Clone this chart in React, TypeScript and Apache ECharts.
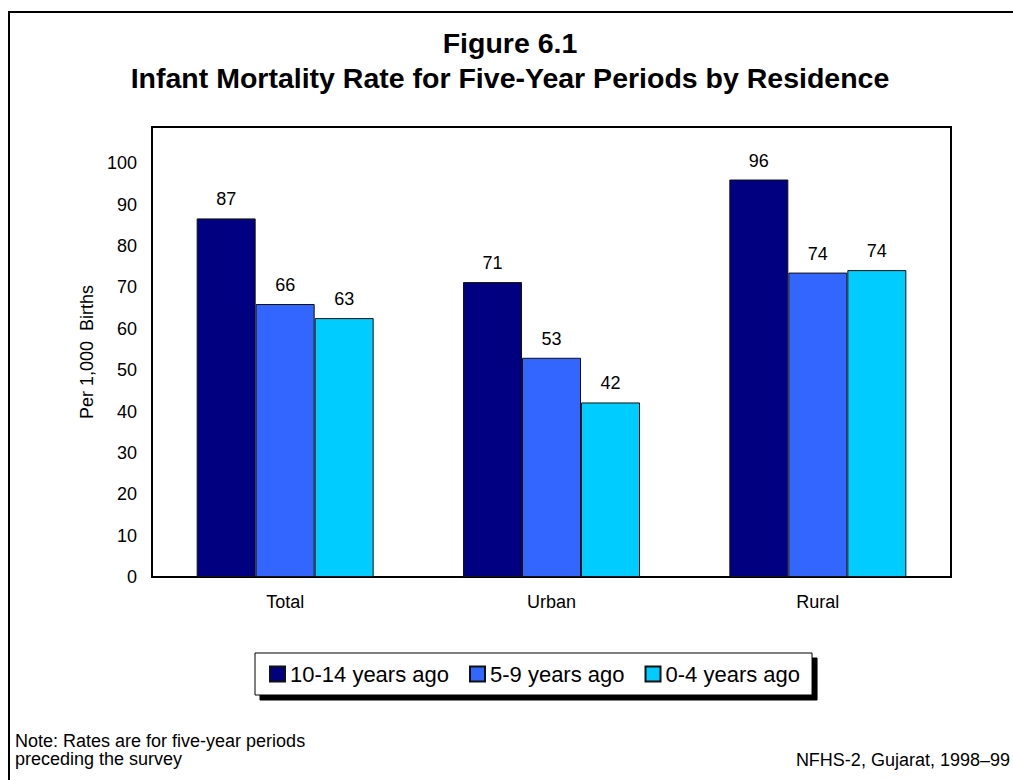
import React, { useEffect, useRef } from "react";
import * as echarts from "echarts";

const categories = ["Total", "Urban", "Rural"];
const seriesNames = ["10-14 years ago", "5-9 years ago", "0-4 years ago"];
const values10to14 = [86.7, 71.3, 96.1];
const values5to9 = [66.0, 53.0, 73.6];
const values0to4 = [62.6, 42.2, 74.2];
const colors = ["#000080", "#3366FF", "#00CCFF"];

const FONT = "Liberation Sans, Arial, Helvetica, sans-serif";

export default function App() {
  const ref = useRef<HTMLDivElement>(null);
  useEffect(() => {
    if (!ref.current) return;
    const chart = echarts.init(ref.current, undefined, { renderer: "svg" });
    const data = [values10to14, values5to9, values0to4];
    chart.setOption({
      animation: false,
      backgroundColor: "#fff",
      textStyle: { fontFamily: FONT, color: "#000" },
      grid: {
        left: 152,
        top: 127,
        right: 62,
        bottom: 203,
        show: true,
        borderColor: "#000",
        borderWidth: 2,
        backgroundColor: "transparent",
      },
      xAxis: {
        type: "category",
        data: categories,
        axisLine: { show: true, lineStyle: { color: "#000", width: 2 } },
        axisTick: { show: false },
        axisLabel: { fontSize: 18, color: "#000", margin: 16, fontFamily: FONT },
      },
      yAxis: {
        type: "value",
        min: 0,
        max: 108.8,
        interval: 10,
        name: "Per 1,000  Births",
        nameLocation: "middle",
        nameGap: 50,
        nameTextStyle: { fontSize: 18, color: "#000", fontFamily: FONT },
        axisLine: { show: true, lineStyle: { color: "#000", width: 2 } },
        axisTick: { show: false },
        splitLine: { show: false },
        axisLabel: {
          fontSize: 18,
          color: "#000",
          margin: 15,
          fontFamily: FONT,
          formatter: (v: number) => (v <= 100 + 1e-6 ? String(Math.round(v)) : ""),
        },
      },
      legend: {
        left: 255,
        top: 653,
        orient: "horizontal",
        itemWidth: 15,
        itemHeight: 15,
        itemGap: 20,
        padding: [10, 12, 10, 14],
        backgroundColor: "#fff",
        borderColor: "#000",
        borderWidth: 1,
        shadowColor: "#000",
        shadowBlur: 0,
        shadowOffsetX: 5,
        shadowOffsetY: 5,
        icon: "rect",
        textStyle: { fontSize: 22, color: "#000", fontFamily: FONT },
        data: seriesNames,
      },
      graphic: [
        {
          type: "polyline",
          shape: { points: [[9, 780], [9, 12], [1013, 12]] },
          style: { stroke: "#000", lineWidth: 2, fill: "none" },
        },
        {
          type: "text",
          x: 510,
          y: 43,
          style: {
            text: "Figure 6.1",
            font: `bold 28.5px ${FONT}`,
            fill: "#000",
            textAlign: "center",
            textVerticalAlign: "middle",
          },
        },
        {
          type: "text",
          x: 510,
          y: 78,
          style: {
            text: "Infant Mortality Rate for Five-Year Periods by Residence",
            font: `bold 28.5px ${FONT}`,
            fill: "#000",
            textAlign: "center",
            textVerticalAlign: "middle",
          },
        },
        {
          type: "text",
          x: 15,
          y: 741,
          style: {
            text: "Note: Rates are for five-year periods",
            font: `18px ${FONT}`,
            fill: "#000",
            textAlign: "left",
            textVerticalAlign: "middle",
          },
        },
        {
          type: "text",
          x: 15,
          y: 759,
          style: {
            text: "preceding the survey",
            font: `18px ${FONT}`,
            fill: "#000",
            textAlign: "left",
            textVerticalAlign: "middle",
          },
        },
        {
          type: "text",
          x: 1010,
          y: 760,
          style: {
            text: "NFHS-2, Gujarat, 1998\u201399",
            font: `18px ${FONT}`,
            fill: "#000",
            textAlign: "right",
            textVerticalAlign: "middle",
          },
        },
      ],
      series: seriesNames.map((name, i) => ({
        name,
        type: "bar",
        data: data[i],
        barWidth: 59,
        barGap: "0%",
        itemStyle: { color: colors[i], borderColor: "#111", borderWidth: 1 },
        label: {
          show: true,
          position: "top",
          distance: 10,
          fontSize: 18,
          color: "#000",
          fontFamily: FONT,
          formatter: (p: any) => String(Math.round(p.value)),
        },
      })),
    });
    return () => chart.dispose();
  }, []);
  return (
    <div
      ref={ref}
      style={{ position: "fixed", left: 0, top: 0, width: 1013, height: 780 }}
    />
  );
}
